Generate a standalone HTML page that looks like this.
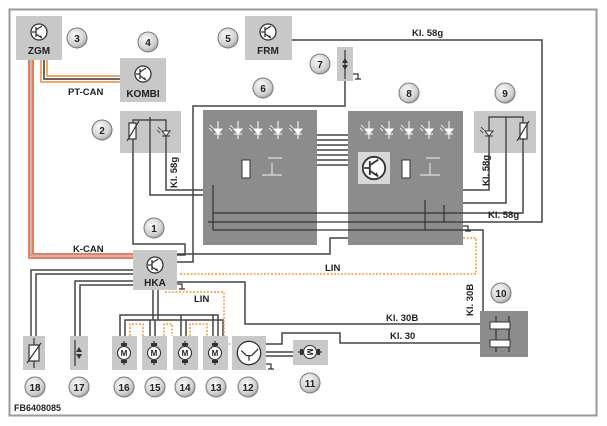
<!DOCTYPE html>
<html><head><meta charset="utf-8"><style>
html,body{margin:0;padding:0;background:#fff}
svg{display:block}
text{font-family:"Liberation Sans",sans-serif;font-weight:bold;fill:#222}
</style></head><body>
<svg width="607" height="426" viewBox="0 0 607 426" xmlns="http://www.w3.org/2000/svg">
<defs>
<radialGradient id="cg" cx="40%" cy="35%" r="70%"><stop offset="0" stop-color="#fafafa"/><stop offset="0.7" stop-color="#d0d0d0"/><stop offset="1" stop-color="#9a9a9a"/></radialGradient>
<g id="tr"><circle r="8" fill="#fff" stroke="#333" stroke-width="1.3"/><path d="M-3,-5V5M-3,0L-7,0M-3,-2L3,-6M-3,2L3,6" stroke="#333" stroke-width="1.3" fill="none"/><path d="M3,6l-3,-1l2,-2z" fill="#333"/></g>
<g id="mot"><line x1="0" y1="-12" x2="0" y2="12" stroke="#333" stroke-width="1.2"/><rect x="-3" y="-10" width="6" height="3" fill="#333"/><rect x="-3" y="7" width="6" height="3" fill="#333"/><circle r="6.5" fill="#fff" stroke="#333" stroke-width="1.1"/><text x="0" y="3" font-size="8" text-anchor="middle" font-weight="normal">M</text></g>
<g id="led"><path d="M0,-9V9M-4,-1h8L0,4z" stroke="#fff" stroke-width="1" fill="#fff"/><path d="M-4,4h8" stroke="#fff"/><path d="M-8,-5l3,3M-9,-2l3,3" stroke="#fff" stroke-width="0.8"/></g>
<g id="ledd"><path d="M-4,-1h8L0,4z" stroke="#333" stroke-width="1" fill="#fff"/><path d="M-4,4h8" stroke="#333"/><path d="M-8,-5l3,3M-9,-2l3,3" stroke="#333" stroke-width="0.8"/></g>
<g id="gnd"><path d="M0,0h5v5M2,5h6" stroke="#333" stroke-width="1.2" fill="none"/></g>
</defs>

<rect x="9.5" y="9.5" width="587" height="406" fill="none" stroke="#9a9a9a" stroke-width="2"/>

<g fill="none" stroke-linejoin="round">
<path d="M29,60V258H133" stroke="#ee7a5a" stroke-width="2"/>
<path d="M33,60V254H133" stroke="#ee7a5a" stroke-width="2"/>
<path d="M31,60V256H133" stroke="#777" stroke-width="1"/>
<path d="M41,60V82H120" stroke="#f2a86a" stroke-width="2"/>
<path d="M47,60V76H120" stroke="#f2a86a" stroke-width="2"/>
<path d="M44,60V79H120" stroke="#666" stroke-width="2"/>
</g>

<g fill="none" stroke="#444" stroke-width="1.5">
<path d="M292,40H542V222H463"/>
<path d="M345,81V106H193V262H177"/>
<path d="M133,153V244H185V255H177"/>
<path d="M150,153V195H203"/>
<path d="M166,153V190H203"/>
<path d="M489,153V190H463"/>
<path d="M506,153V203H463"/>
<path d="M523,153V213H463"/>
<path d="M177,254H330V238H348"/>
<path d="M463,230H483V312H480"/>
<path d="M177,282H245V324H480"/>
<path d="M266,344H282V333H340V343H480"/>
<path d="M266,352H293M266,356H293"/>
<path d="M133,270H31V336M133,274H36V336"/>
<path d="M133,281H75V336M133,285H80V336"/>
<path d="M153,290V320M158,290V320"/>
<path d="M120,336V315H218V336M125,336V320H223V336"/>
<path d="M150,336V320M155,336V320M181,336V315M186,336V320M213,336V315"/>
<path d="M317,135H348M317,140H348M317,145H348M317,150H348M317,155H348M317,160H348M317,165H348"/>
</g>
<g fill="none" stroke="#f29a3a" stroke-width="1.5" stroke-dasharray="2,1.5">
<path d="M180,274H476V238H463"/>
<path d="M165,292H224V344H240V336"/>
<path d="M130,336V324H143V336M164,336V324H172V336M190,336V324H207V336"/>
</g>

<rect x="16" y="16" width="46" height="44" fill="#c8c8c8"/>
<rect x="120" y="58" width="46" height="44" fill="#c8c8c8"/>
<rect x="245" y="16" width="47" height="44" fill="#c8c8c8"/>
<rect x="337" y="47" width="16" height="34" fill="#c8c8c8"/>
<rect x="120" y="111" width="61" height="42" fill="#c8c8c8"/>
<rect x="474" y="111" width="62" height="42" fill="#c8c8c8"/>
<rect x="203" y="110" width="114" height="135" fill="#8c8c8c"/>
<rect x="348" y="111" width="115" height="134" fill="#8c8c8c"/>
<rect x="133" y="250" width="44" height="40" fill="#c8c8c8"/>
<rect x="480" y="311" width="48" height="46" fill="#8c8c8c"/>
<rect x="23" y="336" width="22" height="34" fill="#c8c8c8"/>
<rect x="70" y="336" width="18" height="34" fill="#c8c8c8"/>
<rect x="112" y="336" width="25" height="34" fill="#c8c8c8"/>
<rect x="142" y="336" width="25" height="34" fill="#c8c8c8"/>
<rect x="173" y="336" width="25" height="34" fill="#c8c8c8"/>
<rect x="203" y="336" width="25" height="34" fill="#c8c8c8"/>
<rect x="232" y="336" width="34" height="34" fill="#c8c8c8"/>
<rect x="293" y="340" width="35" height="25" fill="#c8c8c8"/>

<g fill="none" stroke="#333" stroke-width="1.2">
<path d="M133,153V120H166V153M150,117V153"/>
<rect x="129" y="123" width="7" height="16" fill="#fff"/>
<path d="M127,141l12,-20"/>
<path d="M489,153V117H523V153M506,117V153"/>
<rect x="520" y="123" width="7" height="16" fill="#fff"/>
<path d="M517,141l12,-20"/>
<path d="M345,50V79"/>
<path d="M75,340V366"/><path d="M34,338V368"/>
<rect x="29" y="345" width="10" height="16" fill="#fff"/><path d="M27,363l14,-20"/>
<path d="M208,222H463M213,213H463M213,230H463M213,185V230M425,200V230M444,205V222"/>
<path d="M496,316V352M509,316V352"/>
</g>
<use href="#ledd" x="166" y="132"/>
<use href="#ledd" x="489" y="132"/>
<g fill="#fff"><rect x="490" y="322" width="20" height="7" stroke="#333"/><rect x="490" y="340" width="20" height="7" stroke="#333"/></g>
<g>
<use href="#led" x="218" y="130"/><use href="#led" x="238" y="130"/><use href="#led" x="258" y="130"/><use href="#led" x="278" y="130"/><use href="#led" x="298" y="130"/>
<use href="#led" x="369" y="130"/><use href="#led" x="389" y="130"/><use href="#led" x="409" y="130"/><use href="#led" x="429" y="130"/><use href="#led" x="449" y="130"/>
</g>
<rect x="242" y="160" width="8" height="18" fill="#fff" stroke="#333"/>
<rect x="402" y="160" width="8" height="18" fill="#fff" stroke="#333"/>
<path d="M262,175h20M272,163v12M268,158h14M420,175h20M430,163v12M426,158h14" stroke="#ddd" stroke-width="1.2"/>
<rect x="358" y="152" width="32" height="32" fill="#d8d8d8"/>
<use href="#tr" transform="translate(374,168) scale(1.4)"/>

<use href="#tr" x="39" y="32"/>
<use href="#tr" x="143" y="74"/>
<use href="#tr" x="268" y="32"/>
<use href="#tr" x="155" y="265"/>
<g transform="translate(249,353) scale(1.3)"><circle r="9" fill="#fff" stroke="#333"/><path d="M-6,-2l4,4M2,2l5,-5M-2,2h4M0,2v4" stroke="#333" fill="none"/></g>
<use href="#mot" x="124" y="353"/><use href="#mot" x="154" y="353"/><use href="#mot" x="185" y="353"/><use href="#mot" x="215" y="353"/>
<use href="#mot" transform="translate(310,352) rotate(90)"/>
<path d="M345,58l-3,5h6zM345,70l-3,-5h6z" fill="#333"/>
<path d="M79,347l-3,5h6zM79,359l-3,-5h6z" fill="#333"/>

<use href="#gnd" x="353" y="74"/>
<use href="#gnd" x="463" y="226"/>
<use href="#gnd" x="177" y="284"/>
<use href="#gnd" x="266" y="364"/>

<g text-anchor="middle">
<text x="39" y="54" font-size="10">ZGM</text>
<text x="143" y="97" font-size="10">KOMBI</text>
<text x="268" y="54" font-size="10">FRM</text>
<text x="155" y="286" font-size="10">HKA</text>
</g>
<g font-size="9.5">
<text x="68" y="95">PT-CAN</text>
<text x="73" y="252">K-CAN</text>
<text x="412" y="36">Kl. 58g</text>
<text x="488" y="218">Kl. 58g</text>
<text x="325" y="271">LIN</text>
<text x="194" y="302">LIN</text>
<text x="386" y="321">Kl. 30B</text>
<text x="390" y="339">Kl. 30</text>
<text transform="translate(177,188) rotate(-90)">Kl. 58g</text>
<text transform="translate(489,186) rotate(-90)">Kl. 58g</text>
<text transform="translate(473,316) rotate(-90)">Kl. 30B</text>
</g>
<text x="14" y="411" font-size="9" font-weight="normal">FB6408085</text>

<g font-size="10" text-anchor="middle">
<g transform="translate(77,38)"><circle r="10" fill="url(#cg)" stroke="#777"/><text y="4">3</text></g>
<g transform="translate(148,42)"><circle r="10" fill="url(#cg)" stroke="#777"/><text y="4">4</text></g>
<g transform="translate(228,38)"><circle r="10" fill="url(#cg)" stroke="#777"/><text y="4">5</text></g>
<g transform="translate(263,88)"><circle r="10" fill="url(#cg)" stroke="#777"/><text y="4">6</text></g>
<g transform="translate(320,64)"><circle r="10" fill="url(#cg)" stroke="#777"/><text y="4">7</text></g>
<g transform="translate(409,93)"><circle r="10" fill="url(#cg)" stroke="#777"/><text y="4">8</text></g>
<g transform="translate(505,93)"><circle r="10" fill="url(#cg)" stroke="#777"/><text y="4">9</text></g>
<g transform="translate(102,130)"><circle r="10" fill="url(#cg)" stroke="#777"/><text y="4">2</text></g>
<g transform="translate(154,228)"><circle r="10" fill="url(#cg)" stroke="#777"/><text y="4">1</text></g>
<g transform="translate(501,293)"><circle r="10" fill="url(#cg)" stroke="#777"/><text y="4">10</text></g>
<g transform="translate(35,387)"><circle r="10" fill="url(#cg)" stroke="#777"/><text y="4">18</text></g>
<g transform="translate(79,387)"><circle r="10" fill="url(#cg)" stroke="#777"/><text y="4">17</text></g>
<g transform="translate(124,387)"><circle r="10" fill="url(#cg)" stroke="#777"/><text y="4">16</text></g>
<g transform="translate(155,387)"><circle r="10" fill="url(#cg)" stroke="#777"/><text y="4">15</text></g>
<g transform="translate(185,387)"><circle r="10" fill="url(#cg)" stroke="#777"/><text y="4">14</text></g>
<g transform="translate(216,387)"><circle r="10" fill="url(#cg)" stroke="#777"/><text y="4">13</text></g>
<g transform="translate(248,387)"><circle r="10" fill="url(#cg)" stroke="#777"/><text y="4">12</text></g>
<g transform="translate(310,383)"><circle r="10" fill="url(#cg)" stroke="#777"/><text y="4">11</text></g>
</g>
</svg>
</body></html>
